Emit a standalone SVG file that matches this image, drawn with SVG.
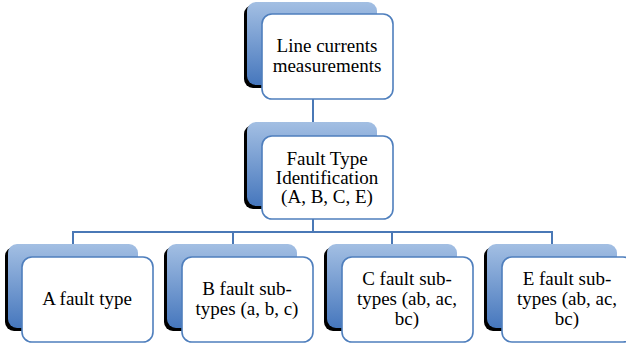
<svg xmlns="http://www.w3.org/2000/svg" width="626" height="350" viewBox="0 0 626 350">
<defs>
<linearGradient id="g" x1="0" y1="0" x2="0" y2="1">
<stop offset="0" stop-color="#a3bfe3"/>
<stop offset="1" stop-color="#4677bd"/>
</linearGradient>
<style>
.sh{fill:#000}
.bk{fill:url(#g)}
.fr{fill:#fff;stroke:#4f7fbd;stroke-width:1.6}
.t{font-family:"Times New Roman","Liberation Serif",serif;font-size:19px;fill:#000;text-anchor:middle}
.c{stroke:#4a78b6;stroke-width:2;fill:none}
</style>
</defs>
<rect width="626" height="350" fill="#fff"/>
<g id="connectors">
<path class="c" d="M313,99 V122"/>
<path class="c" d="M313,219 V232"/>
<path class="c" d="M73,244 V232 H552 V244"/>
<path class="c" d="M233,232 V244"/>
<path class="c" d="M392,232 V244"/>
</g>
<g id="node-top">
<rect class="sh" x="244" y="5" width="130" height="83" rx="9"/>
<rect class="bk" x="247" y="2" width="130" height="83" rx="9"/>
<rect class="fr" x="262" y="14" width="131" height="85" rx="10"/>
<text class="t" x="327" y="52">Line currents</text>
<text class="t" x="327" y="72">measurements</text>
</g>
<g id="node-fault">
<rect class="sh" x="244" y="125" width="130" height="84" rx="9"/>
<rect class="bk" x="247" y="122" width="130" height="84" rx="9"/>
<rect class="fr" x="262" y="136" width="131" height="83" rx="10"/>
<text class="t" x="327" y="165">Fault Type</text>
<text class="t" x="327" y="184">Identification</text>
<text class="t" x="327" y="203">(A, B, C, E)</text>
</g>
<g id="node-a">
<rect class="sh" x="5" y="247" width="130" height="84" rx="9"/>
<rect class="bk" x="8" y="244" width="130" height="84" rx="9"/>
<rect class="fr" x="22" y="257" width="131" height="85" rx="10"/>
<text class="t" x="87" y="305">A fault type</text>
</g>
<g id="node-b">
<rect class="sh" x="164" y="247" width="130" height="84" rx="9"/>
<rect class="bk" x="167" y="244" width="130" height="84" rx="9"/>
<rect class="fr" x="182" y="257" width="131" height="85" rx="10"/>
<text class="t" x="247" y="295">B fault sub-</text>
<text class="t" x="247" y="315">types (a, b, c)</text>
</g>
<g id="node-c">
<rect class="sh" x="324" y="247" width="130" height="84" rx="9"/>
<rect class="bk" x="327" y="244" width="130" height="84" rx="9"/>
<rect class="fr" x="342" y="257" width="131" height="85" rx="10"/>
<text class="t" x="407" y="285">C fault sub-</text>
<text class="t" x="407" y="305">types (ab, ac,</text>
<text class="t" x="407" y="325">bc)</text>
</g>
<g id="node-e">
<rect class="sh" x="484" y="247" width="130" height="84" rx="9"/>
<rect class="bk" x="487" y="244" width="130" height="84" rx="9"/>
<rect class="fr" x="502" y="257" width="131" height="85" rx="10"/>
<text class="t" x="567" y="285">E fault sub-</text>
<text class="t" x="567" y="305">types (ab, ac,</text>
<text class="t" x="567" y="325">bc)</text>
</g>
</svg>
